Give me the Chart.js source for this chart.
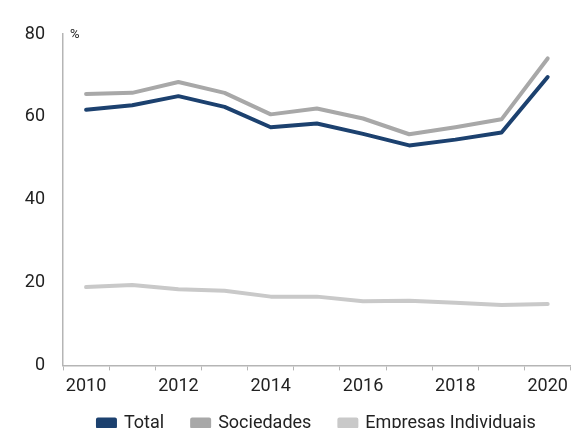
<!DOCTYPE html>
<html>
<head>
<meta charset="utf-8">
<script src="https://cdn.jsdelivr.net/npm/chart.js@4/dist/chart.umd.min.js"></script>
<style>
  html, body { margin: 0; padding: 0; background: #ffffff; overflow: hidden; }
  #wrap { position: relative; width: 573px; height: 428px; }
</style>
</head>
<body>
<div id="wrap"><canvas id="c" width="573" height="428"></canvas></div>
<script>
const years = ['2010','2011','2012','2013','2014','2015','2016','2017','2018','2019','2020'];
const totalValues = [61.7, 62.8, 65.0, 62.4, 57.5, 58.4, 55.9, 53.1, 54.5, 56.2, 69.6];
const sociedadesValues = [65.5, 65.8, 68.4, 65.8, 60.6, 62.0, 59.6, 55.8, 57.5, 59.4, 74.1];
const empresasValues = [18.9, 19.4, 18.4, 18.0, 16.6, 16.6, 15.5, 15.6, 15.1, 14.6, 14.8];
const yTicks = [0, 20, 40, 60, 80];
const seriesNames = ['Total', 'Sociedades', 'Empresas Individuais'];
const unitLabel = '%';

const colors = ['#1c416f', '#a8a8a8', '#c9c9c9'];
const LEGEND_PAD = 28;
const LEGEND_HEIGHT = 26;
const LEGEND_SHIFT = -16;

const unitPlugin = {
  id: 'unitLabel',
  afterDraw(chart) {
    const ctx = chart.ctx;
    const a = chart.chartArea;
    ctx.save();
    ctx.fillStyle = '#222';
    ctx.font = '13px Roboto';
    ctx.textAlign = 'left';
    ctx.textBaseline = 'middle';
    ctx.fillText(unitLabel, a.left + 7, a.top + 1);
    ctx.restore();
  }
};

const chart = new Chart(document.getElementById('c'), {
  type: 'line',
  data: {
    labels: years,
    datasets: [
      { label: seriesNames[0], data: totalValues, borderColor: colors[0], backgroundColor: colors[0] },
      { label: seriesNames[1], data: sociedadesValues, borderColor: colors[1], backgroundColor: colors[1] },
      { label: seriesNames[2], data: empresasValues, borderColor: colors[2], backgroundColor: colors[2] }
    ]
  },
  options: {
    responsive: false,
    animation: false,
    devicePixelRatio: 1,
    elements: {
      line: { borderWidth: 4, tension: 0, borderCapStyle: 'round', borderJoinStyle: 'round' },
      point: { radius: 0, hoverRadius: 0 }
    },
    layout: { padding: { top: 34, right: 2, left: 0, bottom: 0 } },
    plugins: {
      title: { display: false },
      tooltip: { enabled: false },
      legend: {
        display: true,
        position: 'bottom',
        fullSize: false,
        labels: {
          font: { family: 'Roboto', size: 18 },
          color: '#222',
          boxWidth: 17,
          boxHeight: 7,
          padding: LEGEND_PAD
        }
      }
    },
    scales: {
      x: {
        offset: true,
        grid: { offset: true, drawOnChartArea: false, tickLength: 5, color: '#b5b5b5', lineWidth: 1 },
        border: { color: '#b5b5b5', width: 1.5 },
        ticks: {
          autoSkip: false,
          maxRotation: 0,
          font: { family: 'Roboto', size: 18 },
          color: '#222',
          padding: 5,
          callback: function(v, i) { return i % 2 === 0 ? years[i] : ''; }
        }
      },
      y: {
        min: 0, max: 80,
        afterFit(scale) { scale.width = 63; },
        afterBuildTicks(scale) { scale.ticks = yTicks.map(v => ({ value: v })); },
        grid: { display: true, drawOnChartArea: false, drawTicks: false },
        border: { color: '#b5b5b5', width: 1.5 },
        ticks: {
          font: { family: 'Roboto', size: 18 },
          color: '#222',
          padding: 18
        }
      }
    }
  },
  plugins: [unitPlugin]
});

// Decouple the legend's vertical footprint from its horizontal item spacing
const lg = chart.legend;
const proto = Object.getPrototypeOf(lg);
lg.fit = function() { proto.fit.call(this); this.height = LEGEND_HEIGHT; };
lg.draw = function() {
  const t = this.top;
  this.top = t + LEGEND_SHIFT;
  proto.draw.call(this);
  this.top = t;
};
chart.update();
</script>
</body>
</html>
